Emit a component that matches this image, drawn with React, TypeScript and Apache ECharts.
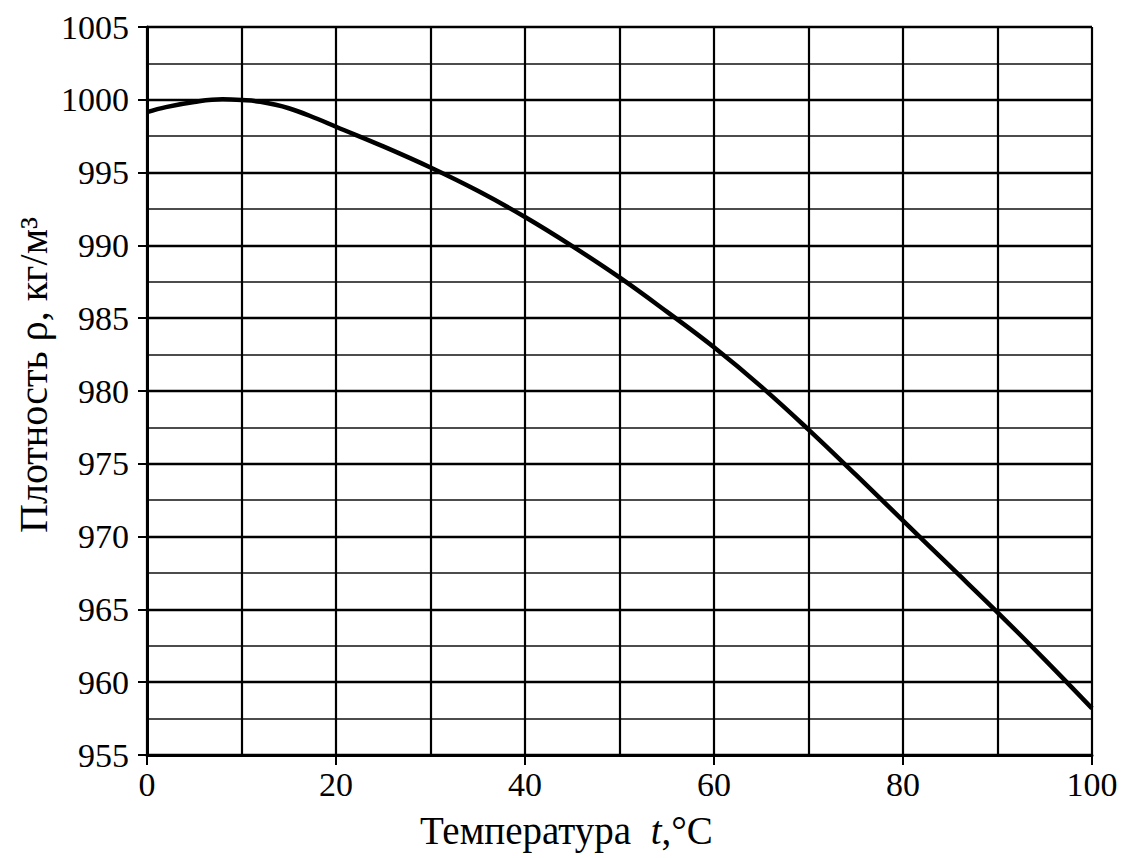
import React, { useEffect, useRef } from "react";
import * as echarts from "echarts";

const temperatures = [0, 2, 5, 8, 10, 12, 15, 18, 20, 25, 30, 35, 40, 45, 50, 55, 60, 65, 70, 75, 80, 85, 90, 95, 100];
const densities = [999.15, 999.5, 999.85, 1000.03, 999.98, 999.86, 999.42, 998.7, 998.15, 996.8, 995.35, 993.75, 991.95, 989.95, 987.8, 985.45, 983.0, 980.3, 977.35, 974.25, 971.1, 967.95, 964.8, 961.55, 958.2];

const xMin = 0;
const xMax = 100;
const xLabelStep = 20;
const yMin = 955;
const yMax = 1005;
const yStep = 5;

const xName = "{n|Температура  }{i|t}{n|,°C}";
const yName = "Плотность ρ, кг/м³";

const FONT = "'Liberation Serif', 'Times New Roman', serif";

export default function App() {
  const ref = useRef<HTMLDivElement>(null);
  useEffect(() => {
    if (!ref.current) return;
    const chart = echarts.init(ref.current, null, { renderer: "svg" });
    const data = temperatures.map((t, i) => [t, densities[i]]);
    chart.setOption({
      animation: false,
      backgroundColor: "#ffffff",
      grid: { left: 147, right: 29, top: 27, bottom: 103, show: false },
      xAxis: {
        type: "value",
        min: xMin,
        max: xMax,
        interval: xLabelStep,
        axisLine: { show: true, onZero: false, lineStyle: { color: "#000", width: 3 } },
        axisTick: { show: true, inside: false, length: 10, lineStyle: { color: "#000", width: 2 } },
        axisLabel: { color: "#000", fontFamily: FONT, fontSize: 34, margin: 12, formatter: (v: number) => String(v) },
        splitLine: { show: true, lineStyle: { color: "#000", width: 2.2 } },
        minorTick: { show: false, splitNumber: 2 },
        minorSplitLine: { show: true, lineStyle: { color: "#000", width: 2.2 } },
      },
      yAxis: {
        type: "value",
        min: yMin,
        max: yMax,
        interval: yStep,
        axisLine: { show: true, onZero: false, lineStyle: { color: "#000", width: 3 } },
        axisTick: { show: true, inside: false, length: 9, lineStyle: { color: "#000", width: 2 } },
        axisLabel: { color: "#000", fontFamily: FONT, fontSize: 34, margin: 18, formatter: (v: number) => String(v) },
        splitLine: { show: true, lineStyle: { color: "#000", width: 2.4 } },
        minorTick: { show: false, splitNumber: 2 },
        minorSplitLine: { show: true, lineStyle: { color: "#111", width: 1.5 } },
      },
      graphic: [
        {
          type: "text",
          left: 420,
          top: 811,
          style: {
            text: xName,
            fill: "#000",
            font: `39px ${FONT}`,
            rich: {
              n: { fontFamily: FONT, fontSize: 39, fill: "#000" },
              i: { fontFamily: FONT, fontSize: 39, fontStyle: "italic", fill: "#000" },
            },
          },
        },
        {
          type: "text",
          x: 33,
          y: 375,
          rotation: Math.PI / 2,
          style: {
            text: yName,
            fill: "#000",
            font: `40px ${FONT}`,
            align: "center",
            verticalAlign: "middle",
          },
        },
      ],
      series: [
        {
          type: "line",
          data,
          smooth: 0.4,
          showSymbol: false,
          lineStyle: { color: "#000", width: 4.5 },
        },
      ],
    });
    return () => chart.dispose();
  }, []);
  return <div ref={ref} style={{ width: 1121, height: 858, position: "absolute", left: 0, top: 0 }} />;
}
